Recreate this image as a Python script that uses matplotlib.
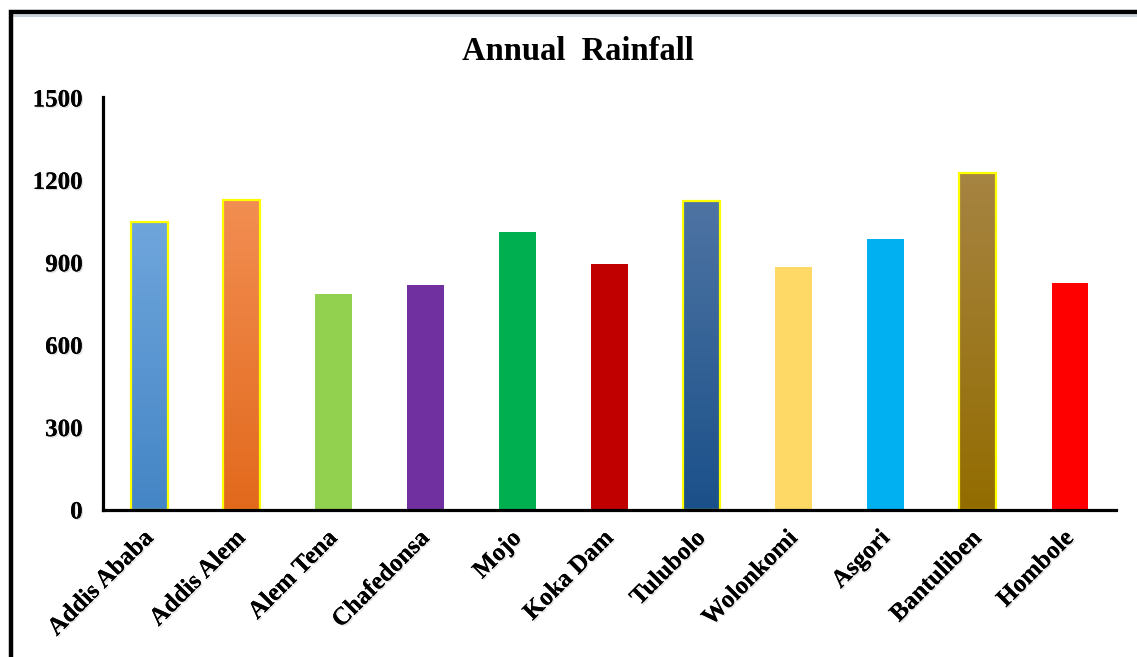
import numpy as np
import matplotlib
matplotlib.use("Agg")
import matplotlib.pyplot as plt
from matplotlib.patches import Rectangle
from matplotlib.lines import Line2D
from matplotlib.colors import LinearSegmentedColormap
import matplotlib.patheffects as pe

# Annual rainfall (mm) per station
stations = ["Addis Ababa", "Addis Alem", "Alem Tena", "Chafedonsa", "Mojo",
            "Koka Dam", "Tulubolo", "Wolonkomi", "Asgori", "Bantuliben", "Hombole"]
rainfall = [1048, 1128, 784, 816, 1010, 894, 1124, 882, 986, 1224, 825]
yticks = [0, 300, 600, 900, 1200, 1500]

# Solid fills, and top/bottom colours for the gradient-filled (outlined) bars
solid_colors = ["#4a8bcb", "#e86d22", "#92d050", "#7030a0", "#00b050",
                "#c00000", "#1f5a93", "#ffd966", "#00b0f0", "#967000", "#ff0000"]
gradients = {
    0: ("#6fa6dc", "#4485c5"),
    1: ("#f28e52", "#e2691c"),
    6: ("#4e74a3", "#1a5089"),
    9: ("#a68442", "#936c00"),
}

plt.rcParams["font.family"] = ["Liberation Serif", "DejaVu Serif"]

fig = plt.figure(figsize=(11.37, 6.57), dpi=100)
ax = fig.add_axes([0.091, 0.2245, 0.8905, 0.6271])

x = np.arange(len(stations))
width = 0.4
bars = ax.bar(x, rainfall, width=width, color=solid_colors, zorder=2)

for i, (top, bottom) in gradients.items():
    b = bars[i]
    cmap = LinearSegmentedColormap.from_list(f"g{i}", [bottom, top])
    grad = np.linspace(0, 1, 256).reshape(-1, 1)
    im = ax.imshow(grad, cmap=cmap, origin="lower", aspect="auto",
                   extent=[x[i] - width / 2, x[i] + width / 2, 0, rainfall[i]],
                   zorder=2.1)
    im.set_clip_path(b)
    ax.bar(x[i], rainfall[i], width=width, fill=False, edgecolor="#ffff00",
           linewidth=1.6, zorder=2.2)

ax.set_xlim(-0.5, len(stations) - 0.5)
ax.set_ylim(0, 1500)
ax.set_yticks(yticks)
ax.set_yticklabels([str(v) for v in yticks], fontsize=18, fontweight="bold")
ax.tick_params(axis="y", length=0, pad=15)
ax.tick_params(axis="x", length=0, pad=18)
ax.set_xticks(x)
labels = ax.set_xticklabels(stations, fontsize=18, fontweight="bold",
                            rotation=45, ha="right", va="center",
                            rotation_mode="anchor")
shadow = [pe.withSimplePatchShadow(offset=(1.0, -1.0), shadow_rgbFace="#999999",
                                   alpha=0.3), pe.Normal()]
for t in labels + ax.get_yticklabels():
    t.set_path_effects(shadow)

for side in ("top", "right"):
    ax.spines[side].set_visible(False)
for side in ("left", "bottom"):
    ax.spines[side].set_linewidth(2.3)
    ax.spines[side].set_color("black")

fig.text(0.508, 0.921, "Annual  Rainfall", ha="center", va="center",
         fontsize=23.5, fontweight="bold")

# Outer chart frame (runs past the right and bottom edges) with a soft
# shadow line under its top edge
fig.add_artist(Line2D([0.0093, 1.0], [0.9755, 0.9755], transform=fig.transFigure,
                      color="#c9d1da", linewidth=1.5, zorder=9))
frame = Rectangle((0.0093, -0.1), 1.2, 0.1 + 0.9817, transform=fig.transFigure,
                  fill=False, edgecolor="black", linewidth=3.2, zorder=10)
fig.patches.append(frame)

fig.savefig("out.png", dpi=100, facecolor="white")
